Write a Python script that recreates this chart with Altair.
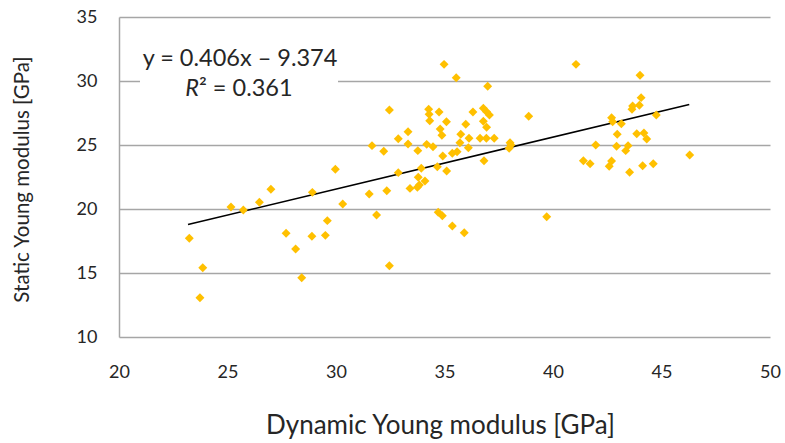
import altair as alt
import pandas as pd

# Measured points (Dynamic vs Static Young modulus, GPa)
dyn = [23.24, 23.86, 23.73, 25.16, 25.73, 26.47, 27.00, 27.70, 28.14, 28.42,
       28.91, 28.89, 29.51, 29.60, 29.97, 30.31, 31.53, 32.34, 31.87, 32.46,
       33.41, 33.75, 33.84, 34.10, 33.79, 32.87, 34.71, 34.90, 35.36, 35.91,
       35.10, 34.98, 35.54, 32.46, 34.27, 34.29, 34.32, 34.75, 35.09, 34.80,
       34.88, 33.32, 32.87, 33.32, 31.66, 32.20, 33.77, 34.18, 34.47, 35.98,
       35.75, 35.71, 35.36, 35.58, 34.92, 34.67, 33.93, 41.06, 36.99, 36.79,
       36.94, 37.07, 36.31, 36.79, 36.94, 38.88, 36.13, 36.64, 36.93, 37.29,
       36.10, 38.02, 38.06, 37.98, 36.82, 44.01, 44.06, 43.98, 43.67, 43.64,
       44.76, 42.70, 42.75, 43.15, 42.96, 43.86, 44.19, 44.32, 41.97, 42.93,
       43.46, 43.35, 41.40, 41.71, 42.70, 42.59, 44.13, 44.62, 43.53, 46.30,
       39.71]
stat = [17.71, 15.41, 13.07, 20.16, 19.92, 20.52, 21.54, 18.10, 16.88, 14.63,
        21.30, 17.87, 17.94, 19.09, 23.10, 20.39, 21.17, 21.43, 19.53, 15.57,
        21.61, 21.69, 21.88, 22.19, 22.48, 22.84, 19.74, 19.48, 18.67, 18.15,
        22.97, 31.30, 30.26, 27.73, 27.79, 27.40, 26.90, 27.58, 26.82, 26.25,
        25.76, 26.04, 25.49, 25.08, 24.95, 24.51, 24.56, 25.05, 24.87, 26.62,
        25.84, 25.18, 24.35, 24.48, 24.14, 23.30, 23.18, 31.30, 29.59, 27.87,
        27.60, 27.34, 27.58, 26.85, 26.38, 27.24, 25.52, 25.52, 25.52, 25.52,
        24.79, 25.18, 25.00, 24.74, 23.77, 30.45, 28.70, 28.10, 28.05, 27.79,
        27.34, 27.13, 26.82, 26.66, 25.84, 25.88, 25.94, 25.47, 25.00, 24.90,
        24.95, 24.56, 23.77, 23.54, 23.75, 23.34, 23.38, 23.54, 22.87, 24.22,
        19.40]

# Trend line as drawn (slope / intercept)
slope = 0.406
intercept = 9.374
trend_x = [23.18, 46.28]
trend_y = [slope * v + intercept for v in trend_x]

x_ticks = [20, 25, 30, 35, 40, 45, 50]
y_ticks = [10, 15, 20, 25, 30, 35]

FONT = "Lato"

pts = pd.DataFrame({"dyn": dyn, "stat": stat})
trend = pd.DataFrame({"dyn": trend_x, "stat": trend_y})

xscale = alt.Scale(domain=[20, 50], nice=False, zero=False)
yscale = alt.Scale(domain=[10, 35], nice=False, zero=False)

xenc = alt.X("dyn:Q", scale=xscale,
             axis=alt.Axis(values=x_ticks, title="Dynamic Young modulus [GPa]",
                           grid=False, ticks=False, domain=False, labelFlush=False,
                           labelFontSize=18, labelColor="#262626", labelFont=FONT,
                           labelPadding=26,
                           titleFontSize=26, titleFontWeight="normal", titleColor="#262626",
                           titleFont=FONT, titleX=321, titleY=88,
                           titleAlign="center", titleBaseline="middle"))
yenc = alt.Y("stat:Q", scale=yscale,
             axis=alt.Axis(values=y_ticks, title="Static Young modulus [GPa]",
                           grid=True, gridColor="#a6a6a6", gridWidth=1.5,
                           domain=True, domainColor="#a6a6a6", domainWidth=1.5,
                           ticks=False, labelFlush=False,
                           labelFontSize=18, labelColor="#262626", labelFont=FONT,
                           labelPadding=22,
                           titleFontSize=20.5, titleFontWeight="normal", titleColor="#262626",
                           titleFont=FONT, titleX=-97, titleY=162,
                           titleAlign="center", titleBaseline="middle"))

points = alt.Chart(pts).mark_point(shape="diamond", filled=True, size=80,
                                   color="#FFC000", opacity=1).encode(x=xenc, y=yenc)

line = alt.Chart(trend).mark_line(color="#000000", strokeWidth=1.6).encode(
    x=alt.X("dyn:Q", scale=xscale), y=alt.Y("stat:Q", scale=yscale))

box = alt.Chart(pd.DataFrame({"a": [0]})).mark_rect(color="white").encode(
    x=alt.value(21), x2=alt.value(219), y=alt.value(23), y2=alt.value(83))

eq = alt.Chart(pd.DataFrame({"t": ["y = 0.406x – 9.374"]})).mark_text(
    font=FONT, fontSize=23.5, color="#262626", align="center", baseline="middle").encode(
    x=alt.value(121), y=alt.value(42), text="t:N")

r_it = alt.Chart(pd.DataFrame({"t": ["R"]})).mark_text(
    font=FONT, fontSize=23.5, fontStyle="italic", color="#262626", align="right",
    baseline="middle").encode(x=alt.value(80), y=alt.value(72), text="t:N")

r_rest = alt.Chart(pd.DataFrame({"t": ["² = 0.361"]})).mark_text(
    font=FONT, fontSize=23.5, color="#262626", align="left",
    baseline="middle").encode(x=alt.value(80), y=alt.value(72), text="t:N")

chart = alt.layer(box, line, points, eq, r_it, r_rest).properties(
    width=651, height=320,
    autosize=alt.AutoSizeParams(type="none"),
    padding={"left": 119, "top": 17, "right": 15, "bottom": 106},
    background="white",
).configure_view(stroke=None)

chart.save("out.html", embed_options={"renderer": "svg", "actions": False})
